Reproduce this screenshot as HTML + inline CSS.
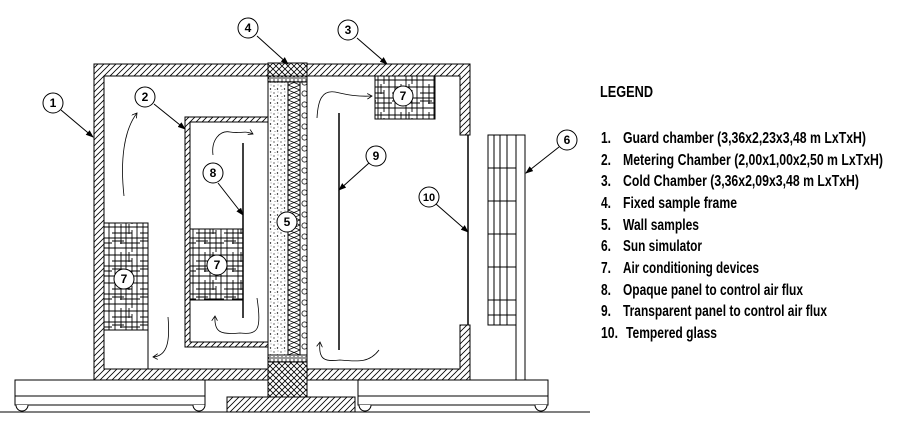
<!DOCTYPE html>
<html><head><style>html,body{margin:0;padding:0;background:#fff}svg{display:block}</style></head><body>
<svg width="899" height="437" viewBox="0 0 899 437" xmlns="http://www.w3.org/2000/svg" font-family="Liberation Sans, sans-serif">
<defs>
<pattern id="h" width="6" height="6" patternUnits="userSpaceOnUse"><rect width="6" height="6" fill="#fff"/><path d="M0 6L6 0M-1 1L1 -1M5 7L7 5" stroke="#000" stroke-width="0.8"/></pattern>
<pattern id="x" width="6" height="6" patternUnits="userSpaceOnUse"><rect width="6" height="6" fill="#fff"/><path d="M0 6L6 0M0 0L6 6" stroke="#000" stroke-width="0.8"/></pattern>
<pattern id="d" width="7" height="7" patternUnits="userSpaceOnUse"><rect width="7" height="7" fill="#fff"/><circle cx="1" cy="2" r="0.6"/><circle cx="4.5" cy="5" r="0.7"/><circle cx="5" cy="1" r="0.4"/><circle cx="2" cy="5.5" r="0.4"/></pattern>
<pattern id="z" width="12" height="10" patternUnits="userSpaceOnUse"><rect width="12" height="10" fill="#fff"/><path d="M0 0L12 5L0 10M0 5L12 0M0 5L12 10" stroke="#000" stroke-width="0.8" fill="none"/></pattern>
<pattern id="o" width="7" height="11" patternUnits="userSpaceOnUse"><rect width="7" height="11" fill="#fff"/><circle cx="3.5" cy="5.5" r="2.6" fill="none" stroke="#000" stroke-width="0.7"/></pattern>
<pattern id="g" width="28" height="28" patternUnits="userSpaceOnUse"><rect width="28" height="28" fill="#fff"/><path d="M0 3H28M0 9H20M0 14H28M8 19H28M0 24H28M3 0V28M9 0V20M14 0V28M20 6V28M25 0V28M0 17H12M17 0V10" stroke="#000" stroke-width="0.9"/></pattern>
<pattern id="bd" width="4" height="4" patternUnits="userSpaceOnUse"><rect width="4" height="4" fill="#fff"/><circle cx="2" cy="2" r="1.2" fill="none" stroke="#000" stroke-width="0.6"/></pattern>
<marker id="a" markerWidth="8" markerHeight="6" refX="7" refY="3" orient="auto" markerUnits="userSpaceOnUse"><path d="M0 0L8 3L0 6z"/></marker>
<marker id="sa" markerWidth="6" markerHeight="6" refX="5" refY="3" orient="auto" markerUnits="userSpaceOnUse"><path d="M0 0L5 3L0 6" fill="none" stroke="#000" stroke-width="0.8"/></marker>
</defs>
<g stroke="#000" stroke-width="1">
<path d="M94 64H268V76H104V369H268V380H94Z" fill="url(#h)"/>
<path d="M307 64H470V135H460V76H307Z" fill="url(#h)"/>
<path d="M307 380H470V325H460V369H307Z" fill="url(#h)"/>
<line x1="468" y1="135" x2="468" y2="325" stroke-width="1.5"/>
<path d="M185 117H268V122H190V342H268V347H185Z" fill="url(#h)"/>
<rect x="268" y="63" width="39" height="13" fill="url(#x)"/>
<rect x="268" y="76" width="39" height="6" fill="url(#bd)"/>
<rect x="268" y="82" width="20" height="273" fill="url(#d)"/>
<rect x="288" y="82" width="12" height="273" fill="url(#z)"/>
<rect x="300" y="82" width="7" height="273" fill="url(#o)"/>
<rect x="268" y="355" width="39" height="7" fill="url(#bd)"/>
<rect x="268" y="362" width="39" height="35" fill="url(#x)"/>
<rect x="104" y="223" width="44" height="107" fill="url(#g)"/>
<path d="M148 330V369" fill="none"/>
<rect x="190" y="229" width="53" height="71" fill="url(#g)"/>
<rect x="375" y="76" width="60" height="43" fill="url(#g)"/>
<line x1="243" y1="143" x2="243" y2="318" stroke-width="1.5"/>
<line x1="339" y1="113" x2="339" y2="350" stroke-width="1.5"/>
<rect x="488" y="135" width="28" height="190" fill="#fff"/>
<path d="M494 135V325M500 135V325M507 135V325M488 168H516M488 201H516M488 234H516M488 267H516M488 300H516M488 315H516" fill="none"/>
<rect x="516" y="135" width="9" height="245" fill="#fff"/>
<rect x="15" y="380" width="190" height="25" fill="#fff"/><line x1="15" y1="396" x2="205" y2="396"/>
<rect x="358" y="380" width="190" height="25" fill="#fff"/><line x1="358" y1="396" x2="548" y2="396"/>
<path d="M16 405A6 6 0 0 0 28 405M193 405A6 6 0 0 0 205 405M359 405A6 6 0 0 0 371 405M535 405A6 6 0 0 0 547 405" fill="#fff"/>
<rect x="227" y="397" width="128" height="15" fill="url(#h)"/>
<line x1="0" y1="412" x2="590" y2="412"/>
<g fill="none" stroke-width="0.8" marker-end="url(#sa)">
<path d="M124 196C120 160 124 130 137 113"/>
<path d="M213 155C211 140 220 130 230 132C240 134 245 130 253 134"/>
<path d="M168 317C170 340 168 356 153 357"/>
<path d="M257 298C262 330 258 335 240 333C220 335 214 332 215 316"/>
<path d="M317 118C318 100 322 90 335 92C345 94 355 97 372 96"/>
<path d="M379 350C370 362 360 362 340 360C325 362 318 360 320 342"/>
</g>
<g marker-end="url(#a)">
<line x1="61" y1="110" x2="93" y2="137"/>
<line x1="154" y1="104" x2="185" y2="129"/>
<line x1="257" y1="36" x2="288" y2="64"/>
<line x1="357" y1="38" x2="387" y2="64"/>
<line x1="218" y1="183" x2="243" y2="215"/>
<line x1="369" y1="163" x2="339" y2="190"/>
<line x1="436" y1="204" x2="468" y2="232"/>
<line x1="559" y1="147" x2="526" y2="173"/>
</g>
<g fill="#fff" stroke-width="1">
<circle cx="53" cy="103" r="10"/><circle cx="145" cy="97" r="10"/><circle cx="248" cy="28" r="10"/><circle cx="348" cy="30" r="10"/>
<circle cx="213" cy="173" r="10"/><circle cx="287" cy="222" r="10"/><circle cx="376" cy="156" r="10"/><circle cx="429" cy="197" r="10"/>
<circle cx="124" cy="279" r="10"/><circle cx="217" cy="265" r="10"/><circle cx="403" cy="96" r="10"/><circle cx="567" cy="140" r="10"/>
</g>
</g>
<g font-size="12" font-weight="bold" text-anchor="middle">
<text x="53" y="107">1</text><text x="145" y="101">2</text><text x="248" y="32">4</text><text x="348" y="34">3</text>
<text x="213" y="177">8</text><text x="287" y="226">5</text><text x="376" y="160">9</text><text x="429" y="201" font-size="11">10</text>
<text x="124" y="283">7</text><text x="217" y="269">7</text><text x="403" y="100">7</text><text x="567" y="144">6</text>
</g>
<g font-size="16" font-weight="bold">
<text x="600" y="97" textLength="53" lengthAdjust="spacingAndGlyphs">LEGEND</text>
<text x="601" y="143" textLength="10" lengthAdjust="spacingAndGlyphs">1.</text><text x="623" y="143" textLength="243" lengthAdjust="spacingAndGlyphs">Guard chamber (3,36x2,23x3,48 m LxTxH)</text>
<text x="601" y="165" textLength="10" lengthAdjust="spacingAndGlyphs">2.</text><text x="623" y="165" textLength="260" lengthAdjust="spacingAndGlyphs">Metering Chamber (2,00x1,00x2,50 m LxTxH)</text>
<text x="601" y="186" textLength="10" lengthAdjust="spacingAndGlyphs">3.</text><text x="623" y="186" textLength="236" lengthAdjust="spacingAndGlyphs">Cold Chamber (3,36x2,09x3,48 m LxTxH)</text>
<text x="601" y="208" textLength="10" lengthAdjust="spacingAndGlyphs">4.</text><text x="623" y="208" textLength="114" lengthAdjust="spacingAndGlyphs">Fixed sample frame</text>
<text x="601" y="230" textLength="10" lengthAdjust="spacingAndGlyphs">5.</text><text x="623" y="230" textLength="76" lengthAdjust="spacingAndGlyphs">Wall samples</text>
<text x="601" y="251" textLength="10" lengthAdjust="spacingAndGlyphs">6.</text><text x="623" y="251" textLength="79" lengthAdjust="spacingAndGlyphs">Sun simulator</text>
<text x="601" y="273" textLength="10" lengthAdjust="spacingAndGlyphs">7.</text><text x="623" y="273" textLength="136" lengthAdjust="spacingAndGlyphs">Air conditioning devices</text>
<text x="601" y="295" textLength="10" lengthAdjust="spacingAndGlyphs">8.</text><text x="623" y="295" textLength="180" lengthAdjust="spacingAndGlyphs">Opaque panel to control air flux</text>
<text x="601" y="316" textLength="10" lengthAdjust="spacingAndGlyphs">9.</text><text x="623" y="316" textLength="204" lengthAdjust="spacingAndGlyphs">Transparent panel to control air flux</text>
<text x="601" y="338" textLength="17" lengthAdjust="spacingAndGlyphs">10.</text><text x="626" y="338" textLength="91" lengthAdjust="spacingAndGlyphs">Tempered glass</text>
</g>
</svg>
</body></html>
